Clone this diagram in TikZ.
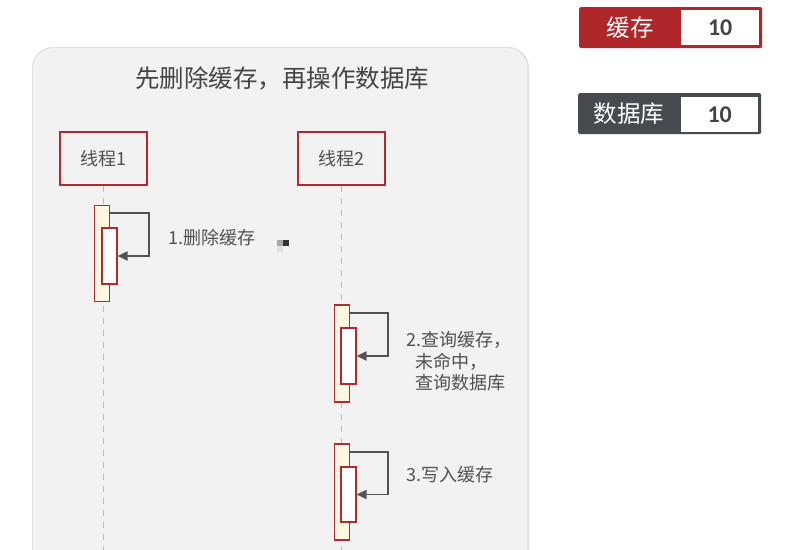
\documentclass[tikz,border=0pt]{standalone}
\usepackage{fontspec}
\setmainfont{Noto Sans CJK SC}
\newfontfamily\numfont{Carlito}
\usetikzlibrary{arrows.meta,calc}
\definecolor{panelbg}{HTML}{F2F2F2}
\definecolor{panelshadow}{HTML}{E0E0E0}
\definecolor{darkred}{HTML}{B02A2E}
\definecolor{actfill}{HTML}{FFF8E1}
\definecolor{arrowgray}{HTML}{4F5356}
\definecolor{txtgray}{HTML}{444444}
\definecolor{lbltxt}{HTML}{505050}
\definecolor{lifegray}{HTML}{BBBBBB}
\definecolor{cachered}{HTML}{B0272B}
\definecolor{dbgray}{HTML}{474B4F}
\begin{document}
\begin{tikzpicture}[x=1pt,y=-1pt,
  threadbox/.style={draw=darkred, line width=1.3pt, fill=panelbg, minimum width=87pt, minimum height=53pt, inner sep=0pt, text=lbltxt, font=\fontsize{18}{20}\selectfont},
  outerbar/.style={draw=darkred, line width=1.2pt, fill=actfill, minimum width=15pt, inner sep=0pt},
  innerbar/.style={draw=darkred, line width=1.2pt, fill=white, minimum width=15pt, inner sep=0pt},
  msg/.style={draw=arrowgray, line width=1.9pt, -{Triangle[length=10pt,width=9pt]}},
  life/.style={draw=lifegray, line width=1.2pt, dash pattern=on 6pt off 6pt},
  steplabel/.style={anchor=west, text=lbltxt, font=\fontsize{18}{21.5}\selectfont, inner sep=0pt, align=left},
  legendtext/.style={text=white, font=\fontsize{23.5}{26}\selectfont, inner sep=0pt},
  legendnum/.style={text=txtgray, font=\numfont\bfseries\fontsize{24}{26}\selectfont, inner sep=0pt}
]
\useasboundingbox (0,0) rectangle (794,549);
\fill[white] (0,0) rectangle (794,549);

% panel
\fill[panelshadow, rounded corners=21pt] (32,47) rectangle (529,600);
\node[fill=panelbg, rounded corners=20pt, minimum width=494pt, minimum height=550pt, anchor=north west, inner sep=0pt] (panel) at (33,48) {};
\node[text=txtgray, font=\fontsize{24.5}{27}\selectfont, inner sep=0pt] (title) at (282,78) {先删除缓存，再操作数据库};

% threads
\node[threadbox] (t1) at (103.5,158.5) {线程1};
\node[threadbox] (t2) at (341.5,158.5) {线程2};
\coordinate (e1) at (103.5,560);
\coordinate (e2) at (341.5,560);
\draw[life] (t1.south) -- (e1);
\draw[life] (t2.south) -- (e2);

% thread 1 activation
\node[outerbar, minimum height=96pt] (o1) at (102,253.5) {};
\node[innerbar, minimum height=56pt] (i1) at (109.5,256) {};
\draw[msg] ($(o1.north east)+(0,8.5)$) -- ++(39,0) |- (i1.east);
\node[steplabel] (l1) at (168,238) {1.删除缓存};

% small artifact squares
\fill[black!35] (277,240) rectangle (283,246);
\fill[black!80] (283,240) rectangle (289,246);
\fill[black!12] (277,246) rectangle (283,252);

% thread 2 activation 1
\node[outerbar, minimum height=97pt] (o2) at (342,353.5) {};
\node[innerbar, minimum height=56pt] (i2) at (348.5,356) {};
\draw[msg] ($(o2.north east)+(0,8.5)$) -- ++(38,0) |- (i2.east);
\node[steplabel] (l2) at (406,361.5) {2.查询缓存，\\\hspace*{9pt}未命中，\\\hspace*{9pt}查询数据库};

% thread 2 activation 2
\node[outerbar, minimum height=96pt] (o3) at (342,492) {};
\node[innerbar, minimum height=55pt] (i3) at (348.5,494.5) {};
\draw[msg] ($(o3.north east)+(0,8.5)$) -- ++(38,0) |- (i3.east);
\node[steplabel] (l3) at (406,475) {3.写入缓存};

% legend
\node[fill=cachered, rounded corners=1.5pt, minimum width=183pt, minimum height=41pt, anchor=north west, inner sep=0pt] (cachebox) at (579,7) {};
\node[fill=white, minimum width=78pt, minimum height=35pt, anchor=north west, inner sep=0pt] (cacheval) at (681,10) {};
\node[legendtext] (cachelbl) at (630,27.5) {缓存};
\node[legendnum] (cachenum) at (cacheval.center) {10};

\node[fill=dbgray, rounded corners=1.5pt, minimum width=183pt, minimum height=41pt, anchor=north west, inner sep=0pt] (dbbox) at (578,93) {};
\node[fill=white, minimum width=77pt, minimum height=35pt, anchor=north west, inner sep=0pt] (dbval) at (681,97) {};
\node[legendtext] (dblbl) at (629,113.5) {数据库};
\node[legendnum] (dbnum) at (dbval.center) {10};
\end{tikzpicture}
\end{document}
